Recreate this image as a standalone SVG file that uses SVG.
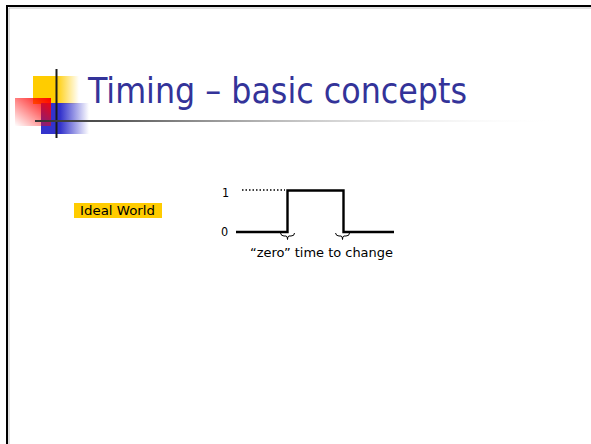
<svg xmlns="http://www.w3.org/2000/svg" width="591" height="444" viewBox="0 0 591 444">
  <defs>
    <linearGradient id="gYellow" x1="0" y1="0" x2="1" y2="0">
      <stop offset="0" stop-color="#ffcc00"/>
      <stop offset="0.5" stop-color="#ffcc00"/>
      <stop offset="1" stop-color="#ffcc00" stop-opacity="0"/>
    </linearGradient>
    <linearGradient id="gBlue" x1="0" y1="0" x2="1" y2="0">
      <stop offset="0" stop-color="#3333cc"/>
      <stop offset="0.4" stop-color="#3333cc"/>
      <stop offset="1" stop-color="#3333cc" stop-opacity="0"/>
    </linearGradient>
    <linearGradient id="gRed" x1="1" y1="0" x2="0" y2="1">
      <stop offset="0" stop-color="#ff0000"/>
      <stop offset="1" stop-color="#ff0000" stop-opacity="0"/>
    </linearGradient>
    <linearGradient id="gRule" x1="0" y1="0" x2="1" y2="0">
      <stop offset="0" stop-color="#333333"/>
      <stop offset="0.15" stop-color="#555555"/>
      <stop offset="1" stop-color="#ffffff" stop-opacity="0"/>
    </linearGradient>
    <style>
      .wave { fill: none; stroke: #000; stroke-width: 2.4; }
      .brace { fill: none; stroke: #000; stroke-width: 1; }
      .lbl { font-family: "DejaVu Sans Condensed", "DejaVu Sans", Verdana, sans-serif; fill: #000; }
    </style>
  </defs>

  <!-- slide frame -->
  <path d="M7,444 V6 H591" fill="none" stroke="#000" stroke-width="2"/>
  <path d="M9,444 V8 H591" fill="none" stroke="#999" stroke-width="0.6"/>

  <!-- title ornament -->
  <g id="logo">
    <rect x="33" y="76" width="46" height="28" fill="url(#gYellow)"/>
    <rect x="41" y="103" width="48" height="31" fill="url(#gBlue)"/>
    <rect x="15" y="98" width="36" height="28" fill="url(#gRed)"/>
    <line x1="56.5" y1="69" x2="56.5" y2="138" stroke="#1a1a1a" stroke-width="2"/>
  </g>

  <!-- title rule -->
  <rect x="35" y="120" width="525" height="2" fill="url(#gRule)"/>

  <g id="title">
    <text x="88" y="103" font-family="DejaVu Sans Condensed, DejaVu Sans, Verdana, sans-serif" font-size="36" fill="#333399" textLength="379" lengthAdjust="spacingAndGlyphs">Timing – basic concepts</text>
  </g>

  <g id="ideal-world">
    <rect x="74" y="203" width="88" height="15" fill="#ffcc00"/>
    <text class="lbl" x="80" y="215" font-size="11.5" textLength="75" lengthAdjust="spacingAndGlyphs">Ideal World</text>
  </g>

  <g id="waveform">
    <text class="lbl" x="222" y="197" font-size="12.5">1</text>
    <text class="lbl" x="221" y="236" font-size="12.5">0</text>
    <line x1="242" y1="190" x2="285" y2="190" stroke="#000" stroke-width="1.5" stroke-dasharray="1.5,2"/>
    <path class="wave" d="M236,232 H287.5 V190.5 H343.5 V232 H394"/>
  </g>

  <g id="connectors">
    <path class="brace" d="M280.5,233 Q281,236 284,236 H286 Q287.5,236 287.5,239.5 Q287.5,236 289,236 H291 Q294.5,236 294.5,233"/>
    <path class="brace" d="M335.5,233 Q336,236 339,236 H341 Q342.5,236 342.5,239.5 Q342.5,236 344,236 H346 Q349.5,236 349.5,233"/>
  </g>

  <g id="caption">
    <text class="lbl" x="250" y="257" font-size="13" textLength="143" lengthAdjust="spacingAndGlyphs">“zero” time to change</text>
  </g>
</svg>
